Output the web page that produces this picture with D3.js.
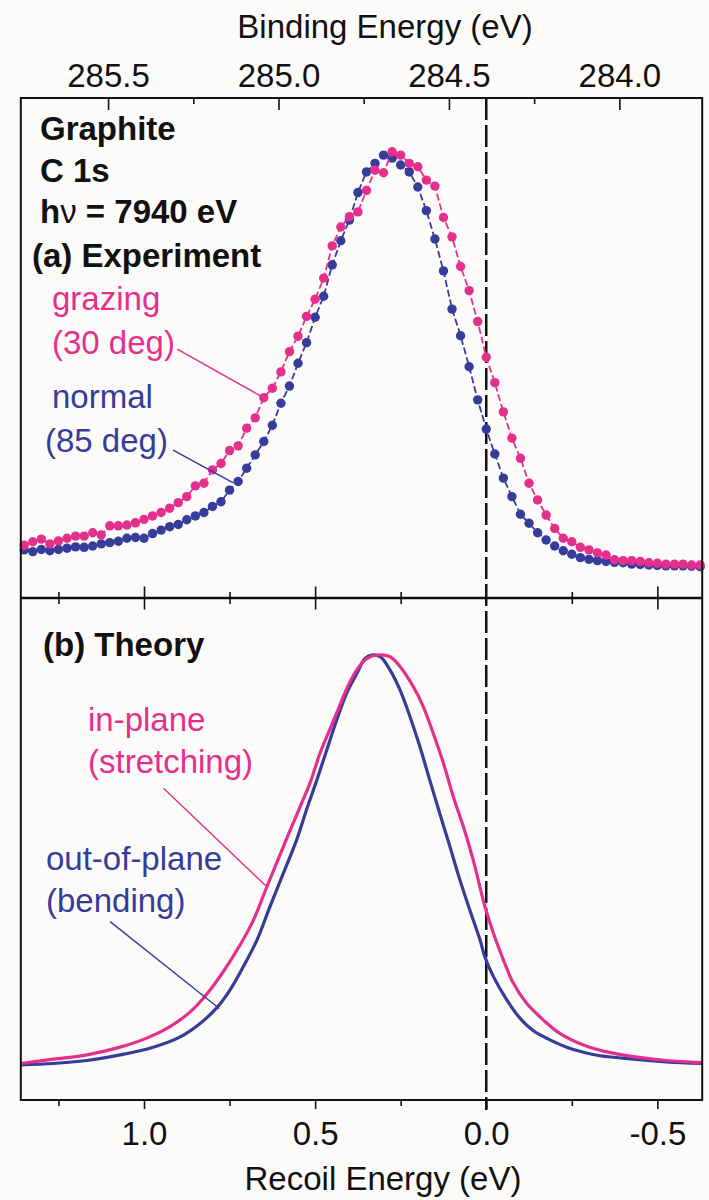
<!DOCTYPE html>
<html>
<head>
<meta charset="utf-8">
<script src="https://cdn.jsdelivr.net/npm/d3@7"></script>
<style>
  body { margin: 0; background: #fcfbf9; }
  svg { display: block; font-family: "Liberation Sans", Arial, Helvetica, sans-serif; }
  .axis path { display: none; }
  .axis line { stroke: #111; stroke-width: 1.6; }
  .axis text { font-size: 33px; fill: #111; font-family: "Liberation Sans", Arial, sans-serif; }
  .lbl { font-size: 33px; }
  .bold { font-weight: bold; fill: #111; }
</style>
</head>
<body>
<div id="chart"></div>
<script>
// recoil energy grid of the measured spectra (eV)
var recoilEnergy = [1.35, 1.325, 1.3, 1.275, 1.25, 1.225, 1.2, 1.175, 1.15, 1.125,
  1.1, 1.075, 1.05, 1.025, 1.0, 0.975, 0.95, 0.925, 0.9, 0.875,
  0.85, 0.825, 0.8, 0.775, 0.75, 0.725, 0.7, 0.675, 0.65, 0.625,
  0.6, 0.575, 0.55, 0.525, 0.5, 0.475, 0.45, 0.425, 0.4, 0.375,
  0.35, 0.325, 0.3, 0.275, 0.25, 0.225, 0.2, 0.175, 0.15, 0.125,
  0.1, 0.075, 0.05, 0.025, 0.0, -0.025, -0.05, -0.075, -0.1, -0.125,
  -0.15, -0.175, -0.2, -0.225, -0.25, -0.275, -0.3, -0.325, -0.35, -0.375,
  -0.4, -0.425, -0.45, -0.475, -0.5, -0.525, -0.55, -0.575, -0.6, -0.625];

// (a) experiment, normalised intensity
var grazing = [0.081, 0.089, 0.095, 0.084, 0.091, 0.097, 0.102, 0.102, 0.110, 0.105,
  0.126, 0.126, 0.128, 0.133, 0.141, 0.149, 0.157, 0.167, 0.180, 0.194,
  0.219, 0.225, 0.256, 0.271, 0.301, 0.312, 0.353, 0.377, 0.424, 0.446,
  0.484, 0.531, 0.567, 0.613, 0.653, 0.702, 0.777, 0.821, 0.845, 0.856,
  0.906, 0.953, 0.947, 0.996, 0.988, 0.969, 0.961, 0.930, 0.916, 0.843,
  0.798, 0.729, 0.673, 0.601, 0.518, 0.459, 0.391, 0.330, 0.283, 0.225,
  0.186, 0.151, 0.120, 0.097, 0.089, 0.076, 0.070, 0.063, 0.058, 0.047,
  0.045, 0.045, 0.043, 0.040, 0.039, 0.037, 0.037, 0.037, 0.035, 0.035];
var normal = [0.070, 0.066, 0.071, 0.068, 0.071, 0.074, 0.077, 0.076, 0.079, 0.084,
  0.087, 0.090, 0.097, 0.099, 0.097, 0.108, 0.116, 0.124, 0.129, 0.140,
  0.149, 0.157, 0.171, 0.182, 0.209, 0.229, 0.260, 0.291, 0.322, 0.360,
  0.411, 0.451, 0.504, 0.552, 0.611, 0.660, 0.733, 0.789, 0.837, 0.901,
  0.949, 0.969, 0.988, 0.981, 0.965, 0.949, 0.914, 0.859, 0.793, 0.719,
  0.630, 0.568, 0.496, 0.419, 0.351, 0.293, 0.237, 0.194, 0.153, 0.132,
  0.110, 0.093, 0.079, 0.068, 0.060, 0.052, 0.048, 0.045, 0.043, 0.041,
  0.040, 0.037, 0.036, 0.035, 0.034, 0.033, 0.033, 0.033, 0.032, 0.031];

// (b) theory curves
var outPlaneE = [1.36, 1.265, 1.167, 1.070, 0.973, 0.894, 0.836, 0.787, 0.748, 0.710,
  0.670, 0.632, 0.593, 0.554, 0.524, 0.495, 0.466, 0.437, 0.408, 0.378,
  0.354, 0.335, 0.310, 0.281, 0.252, 0.223, 0.194, 0.165, 0.136, 0.106,
  0.077, 0.048, 0.018, 0.004, -0.021, -0.060, -0.099, -0.138, -0.186, -0.235,
  -0.284, -0.333, -0.430, -0.527, -0.630];
var outPlaneI = [0.047, 0.050, 0.057, 0.070, 0.088, 0.112, 0.143, 0.180, 0.222, 0.275,
  0.337, 0.415, 0.492, 0.570, 0.643, 0.709, 0.779, 0.849, 0.911, 0.957,
  0.992, 1.000, 0.996, 0.965, 0.919, 0.857, 0.787, 0.709, 0.632, 0.554,
  0.477, 0.407, 0.337, 0.298, 0.252, 0.198, 0.155, 0.126, 0.105, 0.088,
  0.076, 0.068, 0.060, 0.054, 0.050];
var inPlaneE = [1.36, 1.265, 1.167, 1.070, 0.992, 0.924, 0.865, 0.817, 0.768, 0.719,
  0.680, 0.641, 0.593, 0.544, 0.515, 0.486, 0.465, 0.436, 0.407, 0.377,
  0.348, 0.319, 0.281, 0.252, 0.213, 0.184, 0.155, 0.125, 0.096, 0.067,
  0.038, 0.004, -0.021, -0.050, -0.079, -0.118, -0.167, -0.215, -0.284, -0.352,
  -0.430, -0.527, -0.630];
var inPlaneI = [0.050, 0.060, 0.070, 0.088, 0.109, 0.136, 0.170, 0.211, 0.264, 0.326,
  0.384, 0.461, 0.554, 0.647, 0.702, 0.771, 0.812, 0.867, 0.923, 0.967,
  0.992, 1.000, 0.996, 0.973, 0.926, 0.880, 0.818, 0.748, 0.670, 0.601,
  0.523, 0.415, 0.353, 0.291, 0.237, 0.190, 0.151, 0.120, 0.093, 0.077,
  0.066, 0.057, 0.052];

// tick values
var recoilMajor = [1.0, 0.5, 0.0, -0.5];
var recoilMinor = [1.25, 0.75, 0.25, -0.25];
var bindingMajor = [285.5, 285.0, 284.5, 284.0];
var bindingMinor = [285.25, 284.75, 284.25];

var pink = "#e4308c";
var blue = "#363c9a";

var svgWidth = 709;
var svgHeight = 1200;
var plotLeft = 20.8;
var plotRight = 702.2;
var topY = 98;
var midY = 598;
var bottomY = 1100;

var svg = d3.select("#chart")
  .append("svg")
  .attr("width", svgWidth)
  .attr("height", svgHeight);

svg.append("rect")
  .attr("width", svgWidth)
  .attr("height", svgHeight)
  .attr("fill", "#fcfbf9");

// scales
var xScale = d3.scaleLinear().domain([1.36, -0.631]).range([plotLeft, plotRight]);
var beScale = d3.scaleLinear().domain([285.756, 283.757]).range([plotLeft, plotRight]);
var yExp = d3.scaleLinear().domain([0, 1]).range([580, 150]);
var yTheory = d3.scaleLinear().domain([0, 1]).range([1085, 655]);

// top axis: binding energy, ticks pointing into the plot
svg.append("g")
  .attr("class", "axis")
  .attr("transform", `translate(0, ${topY})`)
  .call(d3.axisTop(beScale).tickValues(bindingMajor).tickSize(-12).tickPadding(11)
    .tickFormat(d3.format(".1f")));
svg.append("g")
  .attr("class", "axis")
  .attr("transform", `translate(0, ${topY})`)
  .call(d3.axisTop(beScale).tickValues(bindingMinor).tickSize(-6).tickFormat(""));

// middle divider ticks, both directions
[d3.axisTop, d3.axisBottom].forEach(function(ax) {
  svg.append("g")
    .attr("class", "axis")
    .attr("transform", `translate(0, ${midY})`)
    .call(ax(xScale).tickValues(recoilMajor.filter(d => d !== 0)).tickSize(11.5).tickFormat(""));
  svg.append("g")
    .attr("class", "axis")
    .attr("transform", `translate(0, ${midY})`)
    .call(ax(xScale).tickValues(recoilMinor).tickSize(6).tickFormat(""));
});

// bottom axis: recoil energy
svg.append("g")
  .attr("class", "axis")
  .attr("transform", `translate(0, ${bottomY})`)
  .call(d3.axisBottom(xScale).tickValues(recoilMajor).tickSize(9).tickPadding(13)
    .tickFormat(d => d.toFixed(1)));
svg.append("g")
  .attr("class", "axis")
  .attr("transform", `translate(0, ${bottomY})`)
  .call(d3.axisBottom(xScale).tickValues(recoilMinor).tickSize(6).tickFormat(""));

// axis titles
svg.append("text")
  .attr("class", "lbl")
  .attr("x", 385)
  .attr("y", 38)
  .attr("text-anchor", "middle")
  .attr("fill", "#111")
  .text("Binding Energy (eV)");
svg.append("text")
  .attr("class", "lbl")
  .attr("x", 383)
  .attr("y", 1190)
  .attr("text-anchor", "middle")
  .attr("fill", "#111")
  .text("Recoil Energy (eV)");

// zero recoil dashed line
svg.append("line")
  .attr("x1", xScale(0)).attr("x2", xScale(0))
  .attr("y1", topY).attr("y2", 1110)
  .attr("stroke", "#111")
  .attr("stroke-width", 2.5)
  .attr("stroke-dasharray", "22,5");

// experiment series
var expLine = d3.line()
  .x(d => xScale(d.e))
  .y(d => yExp(d.v));

function drawExp(values, color) {
  var pts = recoilEnergy.map((e, i) => ({ e: e, v: values[i] }));
  svg.append("path")
    .datum(pts)
    .attr("d", expLine)
    .attr("fill", "none")
    .attr("stroke", color)
    .attr("stroke-width", 1.8)
    .attr("stroke-dasharray", "7,3");
  svg.append("g").selectAll("circle")
    .data(pts)
    .enter()
    .append("circle")
    .attr("cx", d => xScale(d.e))
    .attr("cy", d => yExp(d.v))
    .attr("r", 4.7)
    .attr("fill", color);
}
drawExp(normal, blue);
drawExp(grazing, pink);

// theory curves
var thLine = d3.line()
  .curve(d3.curveCatmullRom)
  .x(d => xScale(d.e))
  .y(d => yTheory(d.v));

function drawTheory(es, vs, color) {
  svg.append("path")
    .datum(es.map((e, i) => ({ e: e, v: vs[i] })))
    .attr("d", thLine)
    .attr("fill", "none")
    .attr("stroke", color)
    .attr("stroke-width", 3.2);
}
drawTheory(outPlaneE, outPlaneI, blue);
drawTheory(inPlaneE, inPlaneI, pink);

// frames
svg.append("rect")
  .attr("x", plotLeft).attr("y", topY)
  .attr("width", plotRight - plotLeft).attr("height", bottomY - topY)
  .attr("fill", "none")
  .attr("stroke", "#111")
  .attr("stroke-width", 2);
svg.append("line")
  .attr("x1", plotLeft).attr("x2", plotRight)
  .attr("y1", midY).attr("y2", midY)
  .attr("stroke", "#111")
  .attr("stroke-width", 2.6);

// panel labels
function label(x, y, txt, color, bold) {
  return svg.append("text")
    .attr("class", "lbl" + (bold ? " bold" : ""))
    .attr("x", x)
    .attr("y", y)
    .attr("fill", color)
    .text(txt);
}
label(40, 140, "Graphite", "#111", true);
label(40, 182, "C 1s", "#111", true);
var hv = label(40, 223, "h", "#111", true);
hv.append("tspan").attr("font-weight", "normal").text("\u03bd");
hv.append("tspan").text(" = 7940 eV");
label(32, 267, "(a) Experiment", "#111", true);
label(52, 310, "grazing", pink, false);
label(52, 354, "(30 deg)", pink, false);
label(52, 408, "normal", blue, false);
label(45, 452, "(85 deg)", blue, false);

label(43, 656, "(b) Theory", "#111", true);
label(88, 731, "in-plane", pink, false);
label(88, 773, "(stretching)", pink, false);
label(46, 870, "out-of-plane", blue, false);
label(46, 912, "(bending)", blue, false);

// pointer lines, in data units [energy, intensity]
var pointersExp = [
  { from: [0.903, 0.537], to: [0.655, 0.426], color: pink },
  { from: [0.915, 0.302], to: [0.739, 0.226], color: blue }
];
var pointersTh = [
  { from: [0.943, 0.690], to: [0.641, 0.461], color: pink },
  { from: [1.099, 0.380], to: [0.780, 0.178], color: blue }
];
function pointer(p, yS) {
  svg.append("line")
    .attr("x1", xScale(p.from[0])).attr("y1", yS(p.from[1]))
    .attr("x2", xScale(p.to[0])).attr("y2", yS(p.to[1]))
    .attr("stroke", p.color)
    .attr("stroke-width", 1.4);
}
pointersExp.forEach(p => pointer(p, yExp));
pointersTh.forEach(p => pointer(p, yTheory));
</script>
</body>
</html>
